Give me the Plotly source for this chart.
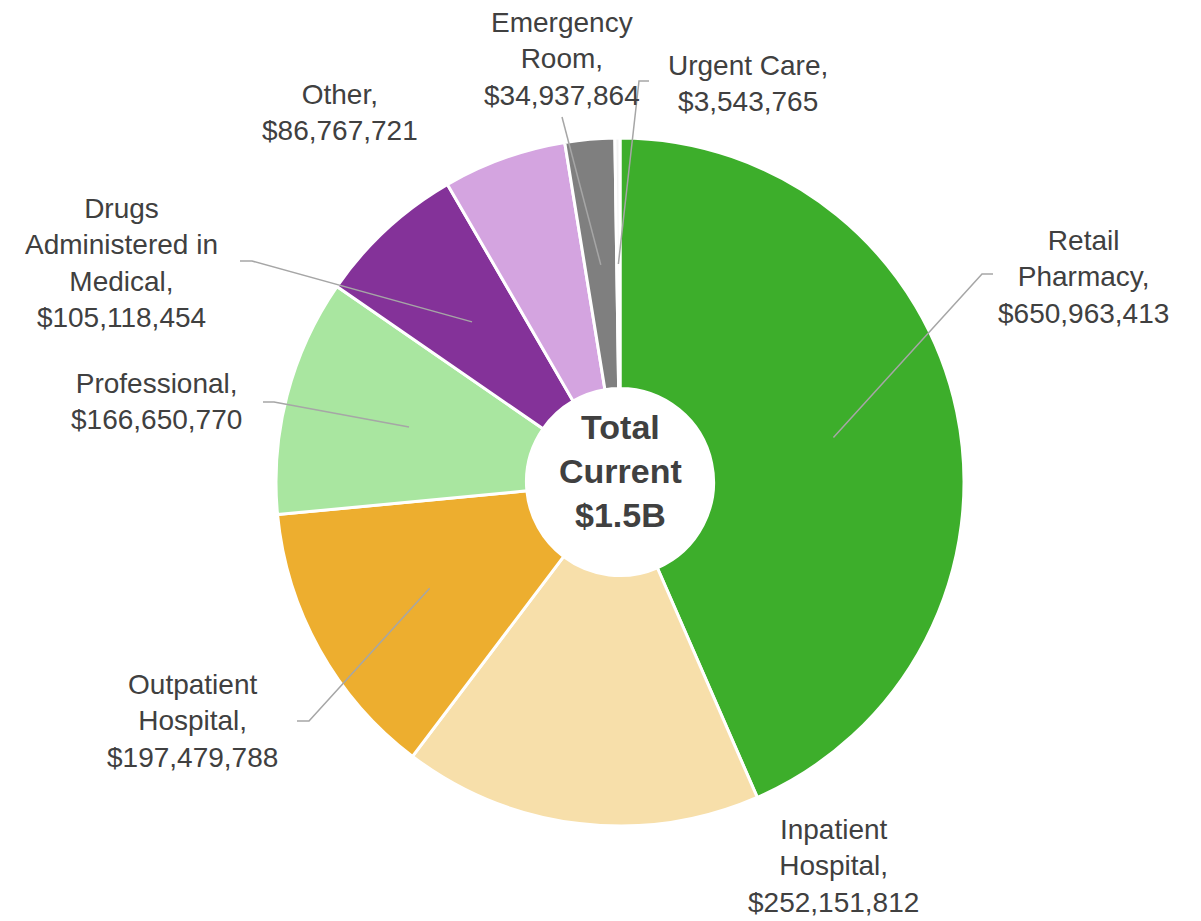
"""Donut chart of total current spend by place of service."""

import math

import plotly.graph_objects as go

categories = [
    "Retail Pharmacy",
    "Inpatient Hospital",
    "Outpatient Hospital",
    "Professional",
    "Drugs Administered in Medical",
    "Other",
    "Emergency Room",
    "Urgent Care",
]
spend = [
    650963413,
    252151812,
    197479788,
    166650770,
    105118454,
    86767721,
    34937864,
    3543765,
]
label_lines = [
    ["Retail", "Pharmacy,"],
    ["Inpatient", "Hospital,"],
    ["Outpatient", "Hospital,"],
    ["Professional,"],
    ["Drugs", "Administered in", "Medical,"],
    ["Other,"],
    ["Emergency", "Room,"],
    ["Urgent Care,"],
]
colors = [
    "#3DAE2B",
    "#F7DFAA",
    "#EDAE2F",
    "#A9E6A0",
    "#843299",
    "#D4A4E0",
    "#7F7F7F",
    "#F2F2F2",
]
center_text = "Total<br>Current<br>$1.5B"

# --- layout (pixels in the 1201 x 921 window) ------------------------------
W, H = 1201, 921
OFF = 8  # page body margin
CX, CY, R = 620, 482, 342
LEADER_R = 218
TEXT_COLOR = "#404040"
LINE_COLOR = "#A6A6A6"
FONT = "Liberation Sans, Arial, sans-serif"

# label centre (x, y) and leader elbow / end points, None when no leader
label_pos = [(1083, 277), (833, 866), (192, 721), (156, 402),
             (121, 263), (340, 112), (562, 59), (748, 83)]
leader_pts = [
    [(982, 274), (993, 274)],
    None,
    [(309, 721), (297, 721)],
    [(274, 402), (263, 402)],
    [(252, 261), (240, 261)],
    None,
    [(562, 117)],
    [(639, 81), (649, 81)],
]


def px(x, y):
    return (x - OFF) / W, 1 - (y - OFF) / H


dx0, dy1 = px(CX - R - 2, CY - R - 2)
dx1, dy0 = px(CX + R + 2, CY + R + 2)

fig = go.Figure(
    go.Pie(
        labels=categories,
        values=spend,
        sort=False,
        direction="clockwise",
        rotation=0,
        hole=93 / R,
        textinfo="none",
        marker=dict(colors=colors, line=dict(color="white", width=3)),
        domain=dict(x=[dx0, dx1], y=[dy0, dy1]),
        showlegend=False,
    )
)

total = sum(spend)
cum = 0
shapes = []
annotations = []
for name, val, lines, pos, pts in zip(categories, spend, label_lines,
                                      label_pos, leader_pts):
    mid = (cum + val / 2) / total * 2 * math.pi
    cum += val
    if pts:
        sx = CX + LEADER_R * math.sin(mid)
        sy = CY - LEADER_R * math.cos(mid)
        path = "M {},{}".format(*px(sx, sy))
        for x, y in pts:
            path += " L {},{}".format(*px(x, y))
        shapes.append(dict(type="path", path=path, xref="paper", yref="paper",
                           line=dict(color=LINE_COLOR, width=1.5)))
    text = "<br>".join(lines + [f"${val:,.0f}"])
    x, y = px(*pos)
    annotations.append(dict(text=text, x=x, y=y, xref="paper", yref="paper",
                            xanchor="center", yanchor="middle", align="center",
                            showarrow=False,
                            font=dict(size=28, color=TEXT_COLOR, family=FONT)))

cx, cy = px(CX, 471)
annotations.append(dict(text=f"<b>{center_text}</b>", x=cx, y=cy,
                        xref="paper", yref="paper", showarrow=False,
                        xanchor="center", yanchor="middle", align="center",
                        font=dict(size=34, color=TEXT_COLOR, family=FONT)))

fig.update_layout(
    width=W,
    height=H,
    margin=dict(l=0, r=0, t=0, b=0),
    paper_bgcolor="white",
    plot_bgcolor="white",
    shapes=shapes,
    annotations=annotations,
)
fig.write_html("out.html")
